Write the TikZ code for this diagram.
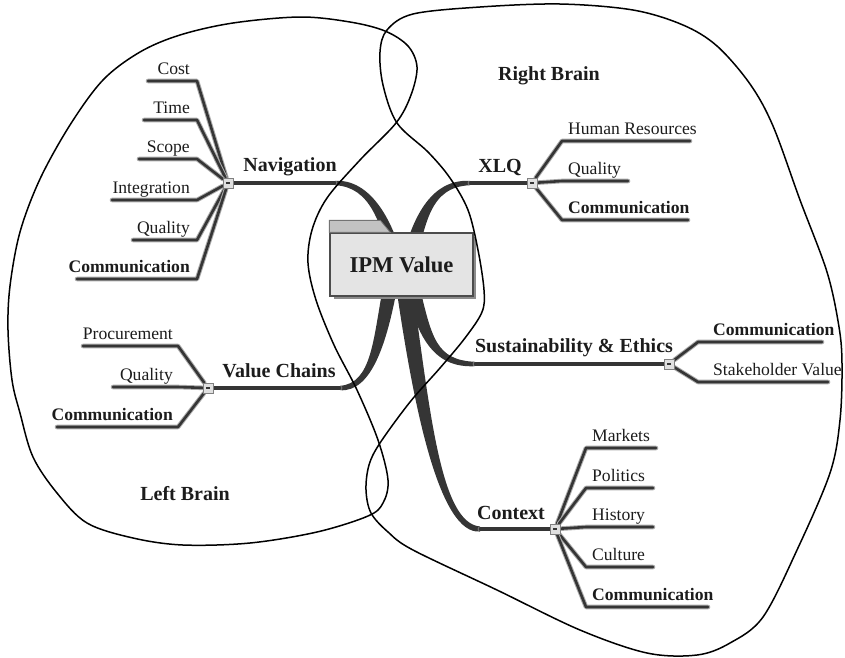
\documentclass[tikz,border=0pt]{standalone}
\usepackage{fontspec}
\setmainfont{Liberation Serif}
\usetikzlibrary{calc}

\definecolor{ink}{HTML}{353535}
\definecolor{halo}{HTML}{ABABAB}
\definecolor{boxfill}{HTML}{E4E4E4}
\definecolor{tabfill}{HTML}{C2C2C2}
\definecolor{txt}{HTML}{1C1C1C}

\pgfdeclarelayer{bg}
\pgfsetlayers{bg,main}

\tikzset{
  branchfill/.style={fill=ink},
  leafline/.style={draw=ink, line width=2.6pt, line join=round, line cap=round,
    preaction={draw=halo, line width=4.6pt, line join=round, line cap=round}},
  stemline/.style={leafline, line width=3.2pt},
  leaftext/.style={font=\fontsize{17.6}{20}\selectfont, text=txt, inner sep=0pt},
  maintext/.style={font=\fontsize{20}{24}\selectfont\bfseries, text=txt, inner sep=0pt},
  ipmbox/.style={draw=black!70, fill=boxfill, line width=1.3pt, minimum width=143pt,
    minimum height=63pt, inner sep=0pt, font=\fontsize{22.6}{26}\selectfont\bfseries, text=txt},
  collapse/.style={draw=black!50, fill=black!12, minimum size=10pt, inner sep=0pt,
    path picture={\draw[ink, line width=1.2pt]
      ([xshift=-2.2pt]path picture bounding box.center) --
      ([xshift=2.2pt]path picture bounding box.center);}},
  brain/.style={draw=black, line width=1.5pt},
}

% tapered main branch: #1 start, #2 #3 controls, #4 end,
% #5 half width at start, #6 half width near end control, #7 half width at end
\newcommand\taperband[7]{%
  \fill[branchfill] ($#1!#5!90:#2$) .. controls ($#2!#5!-90:#1$) and ($#3!#6!90:#4$) .. ($#4!#7!-90:#3$)
    -- ($#4!#7!90:#3$) .. controls ($#3!#6!-90:#4$) and ($#2!#5!90:#1$) .. ($#1!#5!-90:#2$) -- cycle;}

\begin{document}
\begin{tikzpicture}[x=1pt,y=-1pt]
\useasboundingbox (0,0) rectangle (845,657);

% collapse handles
\node[collapse] (navbox) at (228,183) {};
\node[collapse] (xlqbox) at (532,183) {};
\node[collapse] (susbox) at (669,364) {};
\node[collapse] (valbox) at (208,388) {};
\node[collapse] (ctxbox) at (555,529) {};

% central topic
\fill[black!45] (334,237) rectangle (476,299);
\node[ipmbox] (ipm) at (401.5,264.5) {IPM Value};
\filldraw[fill=tabfill, draw=black!55, line width=0.8pt]
  (ipm.north west) -- ++(0,-12) -- ++(51,0) -- ++(10,12) -- cycle;

\begin{pgfonlayer}{bg}
  % main branches
  \coordinate (navA) at (400,275); \coordinate (navB) at (388,220);
  \coordinate (navC) at (370,183); \coordinate (navD) at (335,183);
  \taperband{(navA)}{(navB)}{(navC)}{(navD)}{6.5pt}{4pt}{2.2pt}
  \draw[stemline] (navD) -- (navbox);

  \coordinate (xlqA) at (406,275); \coordinate (xlqB) at (418,220);
  \coordinate (xlqC) at (430,183); \coordinate (xlqD) at (470,183);
  \taperband{(xlqA)}{(xlqB)}{(xlqC)}{(xlqD)}{7.5pt}{4pt}{2.2pt}
  \draw[stemline] (xlqD) -- (xlqbox);

  \coordinate (valA) at (390,288); \coordinate (valB) at (380,340);
  \coordinate (valC) at (372,388); \coordinate (valD) at (340,388);
  \taperband{(valA)}{(valB)}{(valC)}{(valD)}{7pt}{4.5pt}{2.2pt}
  \draw[stemline] (valD) -- (valbox);

  \coordinate (susA) at (412,285); \coordinate (susB) at (425,340);
  \coordinate (susC) at (436,364); \coordinate (susD) at (475,364);
  \taperband{(susA)}{(susB)}{(susC)}{(susD)}{7pt}{4pt}{2.2pt}
  \draw[stemline] (susD) -- (susbox);

  \coordinate (ctxA) at (404,285); \coordinate (ctxB) at (422,410);
  \coordinate (ctxC) at (440,529); \coordinate (ctxD) at (480,529);
  \taperband{(ctxA)}{(ctxB)}{(ctxC)}{(ctxD)}{8pt}{6pt}{2.5pt}
  \draw[stemline] (ctxD) -- (ctxbox);

  % Navigation subtopics
  \foreach \id/\y/\xl/\txt in {cost/81/148/Cost, time/120/144/Time, scope/159/139/Scope,
      integ/200/112/Integration, navq/240/133/Quality, navc/279/77/{\bfseries Communication}} {
    \coordinate (\id-j) at (197,\y);
    \coordinate (\id-e) at (\xl,\y);
    \draw[leafline] (navbox) -- (\id-j) -- (\id-e);
    \node[leaftext, anchor=base east] (\id) at (190,\y-6.5) {\txt};
  }

  % Value Chains subtopics
  \foreach \id/\y/\xl/\txt in {pr/346/83/Procurement, vq/387/113/Quality,
      vc/427/57/{\bfseries Communication}} {
    \coordinate (\id-j) at (178,\y);
    \coordinate (\id-e) at (\xl,\y);
    \draw[leafline] (valbox) -- (\id-j) -- (\id-e);
    \node[leaftext, anchor=base east] (\id) at (173,\y-6.5) {\txt};
  }

  % XLQ subtopics
  \foreach \id/\y/\xr/\txt in {hr/141/690/Human Resources, xq/181/628/Quality,
      xc/220/688/{\bfseries Communication}} {
    \coordinate (\id-j) at (562,\y);
    \coordinate (\id-e) at (\xr,\y);
    \draw[leafline] (xlqbox) -- (\id-j) -- (\id-e);
    \node[leaftext, anchor=base west] (\id) at (568,\y-6.5) {\txt};
  }

  % Sustainability & Ethics subtopics
  \foreach \id/\y/\xr/\txt in {sc/342/822/{\bfseries Communication}, sv/382/828/Stakeholder Value} {
    \coordinate (\id-j) at (698,\y);
    \coordinate (\id-e) at (\xr,\y);
    \draw[leafline] (susbox) -- (\id-j) -- (\id-e);
    \node[leaftext, anchor=base west] (\id) at (713,\y-6.5) {\txt};
  }

  % Context subtopics
  \foreach \id/\y/\xr/\txt in {mk/448/656/Markets, po/488/653/Politics, hi/527/653/History,
      cu/567/653/Culture, cc/607/708/{\bfseries Communication}} {
    \coordinate (\id-j) at (586,\y);
    \coordinate (\id-e) at (\xr,\y);
    \draw[leafline] (ctxbox) -- (\id-j) -- (\id-e);
    \node[leaftext, anchor=base west] (\id) at (592,\y-6.5) {\txt};
  }
\end{pgfonlayer}

% main topic labels
\node[maintext, anchor=base] (nav) at (290,171) {Navigation};
\node[maintext, anchor=base] (xlq) at (500,172) {XLQ};
\node[maintext, anchor=base] (sus) at (574,352) {Sustainability \& Ethics};
\node[maintext, anchor=base] (val) at (279,377) {Value Chains};
\node[maintext, anchor=base] (ctx) at (511,519) {Context};
\node[maintext, anchor=base] (rb) at (549,80) {Right Brain};
\node[maintext, anchor=base] (lb) at (185,500) {Left Brain};

% left hemisphere outline
\draw[brain] plot[smooth cycle, tension=0.55] coordinates {
  (385,31) (408,46) (417,67) (411,95) (396,123) (360,160) (327,198) (312,230)
  (308,263) (316,300) (334,345) (357,390) (378,440) (388,480) (383,503) (368,516)
  (317,532) (250,543) (183,545) (133,538) (87,523) (57,493) (33,457) (20,413)
  (12,380) (8,330) (10,286) (20,232) (40,179) (70,125) (103,80) (140,52)
  (180,35) (233,23) (300,17) (350,22)};

% right hemisphere outline
\draw[brain] plot[smooth cycle, tension=0.55] coordinates {
  (387,30) (413,14) (480,7) (560,4) (633,10) (683,25) (717,46) (750,84)
  (773,126) (800,200) (827,272) (839,327) (842,364) (840,420) (830,473) (797,550)
  (763,617) (730,643) (697,655) (647,653) (580,630) (497,590) (413,550) (388,532)
  (371,513) (366,490) (369,465) (380,443) (410,402) (440,368) (465,338) (482,312)
  (484,290) (478,250) (468,210) (450,178) (428,152) (397,123) (383,85) (380,52)};
\end{tikzpicture}
\end{document}
